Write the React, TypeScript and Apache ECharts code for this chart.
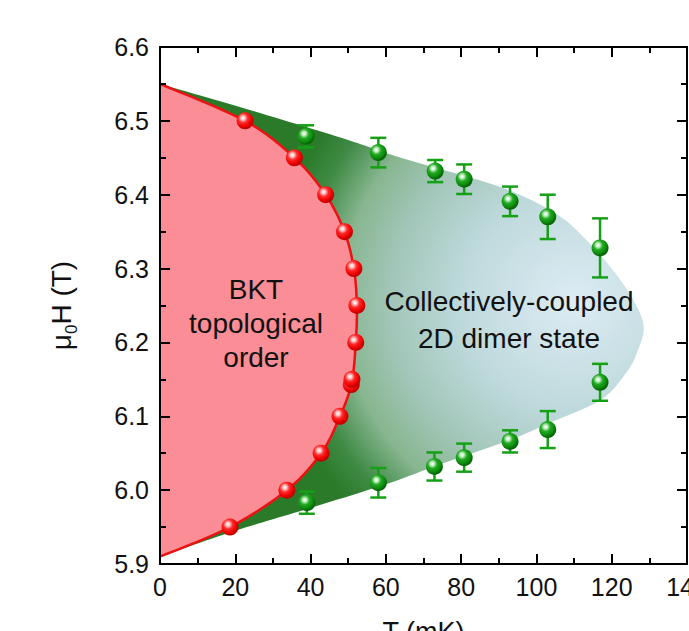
import React, { useEffect, useRef } from 'react';
import * as echarts from 'echarts';

// Axis ranges
const X_MIN = 0;
const X_MAX = 140;
const X_STEP = 20;
const Y_MIN = 5.9;
const Y_MAX = 6.6;
const Y_STEP = 0.1;

// BKT (red) measured points
const BKT_T = [18.6, 33.7, 42.8, 47.8, 50.8, 51.0, 52.0, 52.3, 51.5, 49.0, 44.0, 35.7, 22.6];
const BKT_H = [5.95, 6.0, 6.05, 6.1, 6.143, 6.15, 6.2, 6.25, 6.3, 6.35, 6.4, 6.45, 6.5];

// BKT phase boundary (red line)
const BOUNDARY_T = [0, 22.6, 35.7, 44.0, 49.0, 51.5, 52.3, 52.0, 50.9, 47.8, 42.8, 33.7, 18.6, 0];
const BOUNDARY_H = [6.55, 6.5, 6.45, 6.4, 6.35, 6.3, 6.25, 6.2, 6.145, 6.1, 6.05, 6.0, 5.95, 5.91];

// Collectively-coupled 2D dimer state region outline
const DIMER_T = [0, 25, 50, 64, 90, 105, 113, 120, 125.7, 128.5, 127, 124, 117, 103, 93, 75, 60, 40, 20, 0];
const DIMER_H = [6.55, 6.513, 6.474, 6.45, 6.411, 6.375, 6.34, 6.3, 6.258, 6.222, 6.19, 6.16, 6.122, 6.09, 6.068, 6.036, 6.008, 5.976, 5.945, 5.91];

// Green measured points with error bars
const G_T = [38.8, 58.0, 73.1, 80.8, 93.0, 103.0, 116.9, 39.0, 58.0, 72.9, 80.8, 93.0, 103.0, 116.9];
const G_H = [6.479, 6.457, 6.432, 6.421, 6.391, 6.37, 6.328, 5.983, 6.01, 6.032, 6.044, 6.066, 6.082, 6.146];
const G_ERR = [0.015, 0.02, 0.015, 0.02, 0.02, 0.03, 0.04, 0.015, 0.02, 0.019, 0.019, 0.015, 0.025, 0.025];

const FONT = 'Liberation Sans, Arial, Helvetica, sans-serif';

function catmull(pts: number[][], steps = 14): number[][] {
  const out: number[][] = [];
  const n = pts.length;
  for (let i = 0; i < n - 1; i++) {
    const p0 = pts[Math.max(i - 1, 0)];
    const p1 = pts[i];
    const p2 = pts[i + 1];
    const p3 = pts[Math.min(i + 2, n - 1)];
    for (let s = 0; s < steps; s++) {
      const t = s / steps;
      const t2 = t * t;
      const t3 = t2 * t;
      out.push(
        [0, 1].map(
          (k) =>
            0.5 *
            (2 * p1[k] +
              (-p0[k] + p2[k]) * t +
              (2 * p0[k] - 5 * p1[k] + 4 * p2[k] - p3[k]) * t2 +
              (-p0[k] + 3 * p1[k] - 3 * p2[k] + p3[k]) * t3)
        )
      );
    }
  }
  out.push(pts[n - 1]);
  return out;
}

function sphere(light: string, mid: string, base: string, dark: string) {
  return {
    type: 'radial',
    x: 0.38,
    y: 0.34,
    r: 0.62,
    colorStops: [
      { offset: 0, color: '#ffffff' },
      { offset: 0.18, color: light },
      { offset: 0.45, color: mid },
      { offset: 0.8, color: base },
      { offset: 1, color: dark },
    ],
  };
}

export default function App() {
  const ref = useRef<HTMLDivElement>(null);
  useEffect(() => {
    if (!ref.current) return;
    const chart = echarts.init(ref.current, null, { renderer: 'svg' });

    const axisLine = { show: true, onZero: false, lineStyle: { color: '#000', width: 2 } };
    const axisTick = { show: true, inside: true, length: 10, lineStyle: { color: '#000', width: 2 } };
    const minorTick = { show: true, splitNumber: 2, length: 6, lineStyle: { color: '#000', width: 2 } };
    const labelStyle = { fontSize: 25, color: '#111', fontFamily: FONT };

    const option: any = {
      animation: false,
      grid: { left: 160, right: 2, top: 47, bottom: 67, containLabel: false, outerBoundsMode: 'none' },
      xAxis: [
        {
          type: 'value',
          position: 'bottom',
          min: X_MIN,
          max: X_MAX,
          interval: X_STEP,
          z: 10,
          axisLine,
          axisTick,
          minorTick,
          splitLine: { show: false },
          axisLabel: { ...labelStyle, margin: 10 },
          name: 'T (mK)',
          nameLocation: 'middle',
          nameGap: 54,
          nameTextStyle: { fontSize: 27, color: '#111', fontFamily: FONT },
        },
        {
          type: 'value',
          position: 'top',
          min: X_MIN,
          max: X_MAX,
          interval: X_STEP,
          z: 10,
          axisLine,
          axisTick,
          minorTick,
          splitLine: { show: false },
          axisLabel: { show: false },
        },
      ],
      yAxis: [
        {
          type: 'value',
          position: 'left',
          min: Y_MIN,
          max: Y_MAX,
          interval: Y_STEP,
          z: 10,
          axisLine,
          axisTick,
          minorTick,
          splitLine: { show: false },
          axisLabel: { ...labelStyle, margin: 11, formatter: (v: number) => v.toFixed(1) },
          name: '{m|μ}{s|0}{m|H (T)}',
          nameLocation: 'middle',
          nameRotate: 90,
          nameGap: 80,
          nameTextStyle: {
            fontSize: 28,
            color: '#111',
            fontFamily: FONT,
            rich: {
              m: { fontSize: 28, fontFamily: FONT, color: '#111', verticalAlign: 'middle', lineHeight: 38 },
              s: { fontSize: 17, fontFamily: FONT, color: '#111', verticalAlign: 'bottom', lineHeight: 38 },
            },
          },
        },
        {
          type: 'value',
          position: 'right',
          min: Y_MIN,
          max: Y_MAX,
          interval: Y_STEP,
          z: 10,
          axisLine,
          axisTick,
          minorTick,
          splitLine: { show: false },
          axisLabel: { show: false },
        },
      ],
      graphic: [
        {
          type: 'text',
          x: 256,
          y: 323,
          z: 20,
          style: {
            text: 'BKT\ntopological\norder',
            x: 0,
            y: 0,
            align: 'center',
            verticalAlign: 'middle',
            fontSize: 28,
            fontFamily: FONT,
            lineHeight: 34,
            fill: '#111',
          },
        },
        {
          type: 'text',
          x: 509,
          y: 320,
          z: 20,
          style: {
            text: 'Collectively-coupled\n2D dimer state',
            x: 0,
            y: 0,
            align: 'center',
            verticalAlign: 'middle',
            fontSize: 28,
            fontFamily: FONT,
            lineHeight: 37,
            fill: '#111',
          },
        },
      ],
      series: [
        {
          type: 'custom',
          name: 'dimer',
          z: 1,
          silent: true,
          data: [[DIMER_T[0], DIMER_H[0]]],
          renderItem: (_p: any, api: any) => {
            const pts = DIMER_T.map((t, i) => api.coord([t, DIMER_H[i]]));
            return {
              type: 'polygon',
              shape: { points: catmull(pts) },
              style: {
                fill: new echarts.graphic.RadialGradient(0.855, 0.46, 0.63, [
                  { offset: 0, color: '#ddecf4' },
                  { offset: 0.37, color: '#bed9dc' },
                  { offset: 0.6, color: '#a2c6b8' },
                  { offset: 0.76, color: '#88b690' },
                  { offset: 0.9, color: '#3f8a45' },
                  { offset: 1, color: '#2a7a2a' },
                ]),
              },
            };
          },
        },
        {
          type: 'custom',
          name: 'bkt',
          z: 2,
          silent: true,
          data: [[BOUNDARY_T[0], BOUNDARY_H[0]]],
          renderItem: (_p: any, api: any) => {
            const pts = catmull(BOUNDARY_T.map((t, i) => api.coord([t, BOUNDARY_H[i]])));
            return {
              type: 'group',
              children: [
                { type: 'polygon', shape: { points: pts }, style: { fill: '#fa8d95' } },
                { type: 'polyline', shape: { points: pts }, style: { stroke: '#ee1111', lineWidth: 2.5, fill: 'none' } },
              ],
            };
          },
        },
        {
          type: 'custom',
          name: 'errors',
          z: 3,
          silent: true,
          encode: { x: 0, y: 1 },
          data: G_T.map((t, i) => [t, G_H[i], G_ERR[i]]),
          renderItem: (_p: any, api: any) => {
            const t = api.value(0);
            const h = api.value(1);
            const e = api.value(2);
            const top = api.coord([t, h + e]);
            const bot = api.coord([t, h - e]);
            const w = 8;
            const style = { stroke: '#15a015', lineWidth: 2.5 };
            return {
              type: 'group',
              children: [
                { type: 'line', shape: { x1: top[0], y1: top[1], x2: bot[0], y2: bot[1] }, style },
                { type: 'line', shape: { x1: top[0] - w, y1: top[1], x2: top[0] + w, y2: top[1] }, style },
                { type: 'line', shape: { x1: bot[0] - w, y1: bot[1], x2: bot[0] + w, y2: bot[1] }, style },
              ],
            };
          },
        },
        {
          type: 'scatter',
          name: 'dimer points',
          z: 4,
          symbol: 'circle',
          symbolSize: 17,
          data: G_T.map((t, i) => [t, G_H[i]]),
          itemStyle: { color: sphere('#c8f0c8', '#22aa22', '#0d8a0d', '#066606'), opacity: 1 },
        },
        {
          type: 'scatter',
          name: 'BKT points',
          z: 5,
          symbol: 'circle',
          symbolSize: 17,
          data: BKT_T.map((t, i) => [t, BKT_H[i]]),
          itemStyle: { color: sphere('#ffc8c8', '#ff2a2a', '#ee0000', '#c00000'), opacity: 1 },
        },
      ],
    };
    chart.setOption(option);
    return () => chart.dispose();
  }, []);
  return (
    <div
      ref={ref}
      style={{ position: 'fixed', left: 0, top: 0, width: 689, height: 631, background: '#fff' }}
    />
  );
}
